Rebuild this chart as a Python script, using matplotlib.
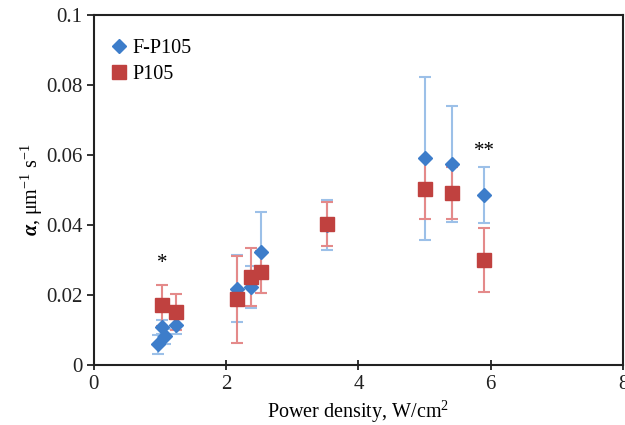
import matplotlib
matplotlib.use("Agg")
import matplotlib.pyplot as plt

# F-P105 (blue diamonds)
fp_x = [0.97, 1.07, 1.03, 1.24, 2.17, 2.37, 2.53, 3.52, 5.00, 5.42, 5.90]
fp_y = [0.0060, 0.0082, 0.0110, 0.0115, 0.0218, 0.0224, 0.0322, 0.0400, 0.0590, 0.0574, 0.0486]
fp_err = [0.0027, 0.0022, 0.0020, 0.0027, 0.0095, 0.0060, 0.0115, 0.0072, 0.0232, 0.0166, 0.0081]

# P105 (red squares)
p_x = [1.03, 1.25, 2.17, 2.37, 2.53, 3.52, 5.00, 5.42, 5.90]
p_y = [0.0171, 0.0151, 0.0188, 0.0252, 0.0266, 0.0403, 0.0503, 0.0491, 0.0300]
p_err = [0.0058, 0.0052, 0.0124, 0.0082, 0.0060, 0.0062, 0.0087, 0.0075, 0.0090]

xticks = [0, 2, 4, 6, 8]
yticks = [0, 0.02, 0.04, 0.06, 0.08, 0.1]
ytick_labels = ["0", "0.02", "0.04", "0.06", "0.08", "0.1"]

plt.rcParams['font.family'] = ['Liberation Serif', 'DejaVu Serif']
plt.rcParams['mathtext.fontset'] = 'custom'
plt.rcParams['mathtext.rm'] = 'Liberation Serif'
plt.rcParams['mathtext.it'] = 'Liberation Serif:italic'
plt.rcParams['mathtext.bf'] = 'Liberation Serif:italic:bold'

fig = plt.figure(figsize=(6.25, 4.25), dpi=100)
ax = fig.add_axes([0.150, 0.141, 0.847, 0.824])

blue = '#3D7DCA'
blue_err = '#9CC0E8'
red = '#C0413F'
red_err = '#E48A8A'

ax.errorbar(fp_x, fp_y, yerr=fp_err, fmt='none', ecolor=blue_err,
            elinewidth=1.5, capsize=4, capthick=1.5, zorder=2)
ax.errorbar(p_x, p_y, yerr=p_err, fmt='none', ecolor=red_err,
            elinewidth=1.5, capsize=4, capthick=1.5, zorder=2.1)
ax.plot(fp_x, fp_y, 'D', color=blue, markersize=7, zorder=3, label='F-P105')
ax.plot(p_x, p_y, 's', color=red, markersize=10, zorder=3.1, label='P105')

ax.text(1.03, 0.0262, '*', ha='center', va='bottom', fontsize=15)
ax.text(5.9, 0.0582, '**', ha='center', va='bottom', fontsize=15)

ax.set_xlim(0, 8)
ax.set_ylim(0, 0.1)
ax.set_xticks(xticks)
ax.set_xticklabels([str(t) for t in xticks])
ax.set_yticks(yticks)
ax.set_yticklabels(ytick_labels)
ax.tick_params(axis='both', labelsize=15, width=1.3, length=5, colors='#222222')
ax.tick_params(axis='x', direction='inout', length=7, pad=4)
ax.tick_params(axis='y', pad=3)
for s in ax.spines.values():
    s.set_linewidth(1.5)
    s.set_color('#222222')

ax.set_xlabel('Power density, W/cm$^2$', fontsize=14.5, labelpad=3)
ax.set_ylabel(r'$\mathbf{\alpha}$, μm$^{-1}$ s$^{-1}$', fontsize=14.5, labelpad=1)

ax.legend(loc='upper left', frameon=False, fontsize=14.5,
          handletextpad=0.2, handlelength=1.0, borderaxespad=0.6,
          labelspacing=0.35, bbox_to_anchor=(-0.01, 0.99))

fig.savefig('out.png', dpi=100)
